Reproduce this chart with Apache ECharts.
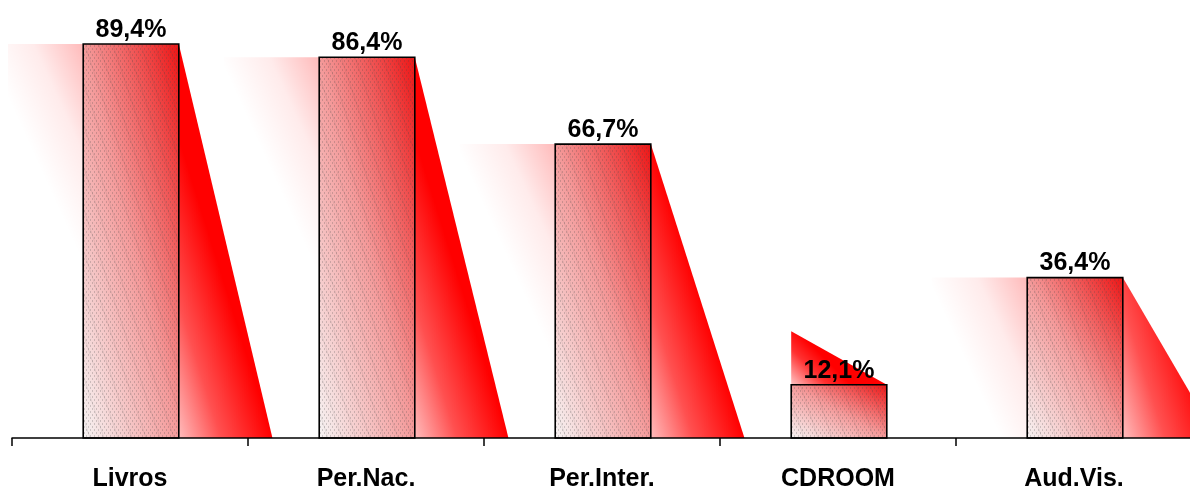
<!DOCTYPE html>
<html>
<head>
<meta charset="utf-8">
<script src="https://cdn.jsdelivr.net/npm/echarts@6/dist/echarts.min.js"></script>
<style>
  html, body { margin: 0; padding: 0; background: #fff; }
  #chart { width: 1190px; height: 491px; }
</style>
</head>
<body>
<div id="chart"></div>
<script>
// Share of each kind of material (percent)
const categories = ['Livros', 'Per.Nac.', 'Per.Inter.', 'CDROOM', 'Aud.Vis.'];
const values = [89.4, 86.4, 66.7, 12.1, 36.4];

// Categories whose shadow is cast upward above the bar instead of to the side
const upwardShadow = ['CDROOM'];

const FONT = 'Liberation Sans, Arial, sans-serif';

function fmt(v) {
  return v.toFixed(1).replace('.', ',') + '%';
}

// Fine stipple texture laid over the bar gradient
function makeDots() {
  const c = document.createElement('canvas');
  c.width = 4; c.height = 6;
  const g = c.getContext('2d');
  g.fillStyle = 'rgba(70,70,70,0.24)';
  g.fillRect(0, 0, 1, 2);
  g.fillRect(2, 3, 1, 2);
  return c;
}
// Faint slanted hatch lines
function makeHatch() {
  const c = document.createElement('canvas');
  c.width = 14; c.height = 42;
  const g = c.getContext('2d');
  g.strokeStyle = 'rgba(60,60,60,0.10)';
  g.lineWidth = 1;
  for (let k = -1; k <= 1; k++) {
    g.beginPath();
    g.moveTo(k * 14, 0);
    g.lineTo(k * 14 + 14, 42);
    g.stroke();
  }
  return c;
}
const dotPattern = { image: makeDots(), repeat: 'repeat' };
const hatchPattern = { image: makeHatch(), repeat: 'repeat' };

// Linear gradient in pixel space with t = ax*dx + ay*dy from (x, y)
function pixelGradient(x, y, ax, ay, stops) {
  const n = ax * ax + ay * ay;
  return {
    type: 'linear', global: true,
    x: x, y: y, x2: x + ax / n, y2: y + ay / n,
    colorStops: stops
  };
}

function geometry(params, api) {
  const i = api.value(0), v = api.value(1);
  const base = api.coord([i, 0]);
  const top = api.coord([i, v]);
  const band = api.size([1, 0])[0];
  const bw = band * 0.405;
  const x0 = base[0] - bw / 2 + 1;
  return { i, v, x0, bw, yT: top[1], yB: base[1], h: base[1] - top[1], cx: base[0] + 1 };
}

function renderShadow(params, api) {
  const g = geometry(params, api);
  const children = [];
  if (upwardShadow.indexOf(categories[g.i]) >= 0) {
    children.push({
      type: 'polygon',
      shape: { points: [[g.x0, g.yT - g.h], [g.x0, g.yT], [g.x0 + g.bw, g.yT]] },
      style: {
        fill: pixelGradient(g.x0, g.yT, 1 / 60, -1 / 60, [
          { offset: 0, color: '#ffc4c4' },
          { offset: 0.6, color: '#ff3030' },
          { offset: 1, color: '#ff0000' }
        ])
      }
    });
  } else {
    const left = Math.max(g.x0 - g.bw, params.coordSys.x - 4);
    children.push({
      type: 'rect',
      shape: { x: left, y: g.yT, width: g.x0 - left, height: g.h },
      style: {
        fill: pixelGradient(g.x0, g.yT, -1 / 100, 1 / 220, [
          { offset: 0, color: 'rgba(255,0,0,0.27)' },
          { offset: 0.5, color: 'rgba(255,0,0,0.08)' },
          { offset: 1, color: 'rgba(255,0,0,0)' }
        ])
      }
    });
    const xr = g.x0 + g.bw;
    children.push({
      type: 'polygon',
      shape: { points: [[xr, g.yT], [xr, g.yB], [xr + g.bw * 0.98, g.yB]] },
      style: {
        fill: pixelGradient(xr, g.yB, 1 / 94, -1 / 300, [
          { offset: 0, color: '#ffbcbc' },
          { offset: 0.45, color: '#ff5050' },
          { offset: 1, color: '#ff0000' }
        ])
      }
    });
  }
  return { type: 'group', children };
}

function renderBar(params, api) {
  const g = geometry(params, api);
  const shape = { x: g.x0, y: g.yT, width: g.bw, height: g.h };
  return {
    type: 'group',
    children: [
      {
        type: 'rect', shape,
        style: {
          fill: pixelGradient(g.x0, g.yB, 1 / (2 * g.bw), -1 / (2 * g.h), [
            { offset: 0, color: '#f6f3f3' },
            { offset: 0.5, color: '#f49a9a' },
            { offset: 1, color: '#ec1616' }
          ])
        }
      },
      { type: 'rect', shape, style: { fill: dotPattern } },
      { type: 'rect', shape, style: { fill: hatchPattern } },
      { type: 'rect', shape, style: { fill: 'none', stroke: '#000', lineWidth: 1.6 } },
      {
        type: 'text',
        style: {
          text: fmt(g.v), x: g.cx, y: g.yT - 14,
          align: 'center', verticalAlign: 'middle',
          font: 'bold 25px ' + FONT, fill: '#000'
        }
      }
    ]
  };
}

const seriesData = values.map((v, i) => [i, v]);

const chart = echarts.init(document.getElementById('chart'), null, { renderer: 'canvas' });
chart.setOption({
  animation: false,
  backgroundColor: '#fff',
  grid: { left: 12, right: -2, top: 0, bottom: 53, outerBoundsMode: 'none', containLabel: false },
  xAxis: {
    type: 'category',
    data: categories,
    boundaryGap: true,
    axisLine: { show: true, lineStyle: { color: '#000', width: 1.5 } },
    axisTick: {
      show: true, interval: 0, alignWithLabel: false, inside: false,
      length: 8, lineStyle: { color: '#000', width: 1.5 }
    },
    axisLabel: {
      margin: 29, fontSize: 25, fontWeight: 'bold',
      color: '#000', fontFamily: FONT, interval: 0
    },
    z: 5
  },
  yAxis: { type: 'value', min: 0, max: 99.4, show: false },
  series: [
    { type: 'custom', renderItem: renderShadow, data: seriesData, z: 1, clip: false },
    { type: 'custom', renderItem: renderBar, data: seriesData, z: 2, clip: false }
  ]
});
</script>
</body>
</html>
